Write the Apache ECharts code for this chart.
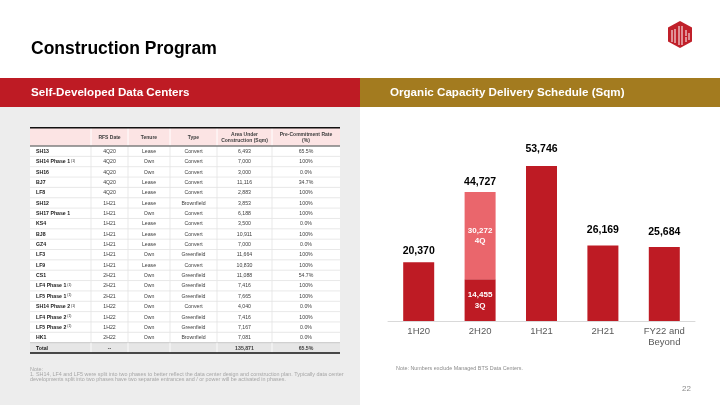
<!DOCTYPE html>
<html><head><meta charset="utf-8">
<script src="https://cdn.jsdelivr.net/npm/echarts@6/dist/echarts.min.js"></script>
<style>html,body{margin:0;padding:0;background:#fff}#c{width:720px;height:405px}</style>
</head><body><div id="c"></div>
<script>
// ---------- chart data ----------
const categories = ['1H20', '2H20', '1H21', '2H21', 'FY22 and\nBeyond'];
const deliveredBase = [20370, 14455, 53746, 26169, 25684];
const deliveredUpper = [null, 30272, null, null, null];
const periodTotals = [20370, 44727, 53746, 26169, 25684];
const baseQuarterTags = ['', '3Q', '', '', ''];
const upperQuarterTags = ['', '4Q', '', '', ''];

// ---------- table data ----------
const tableHeaders = ['', 'RFS Date', 'Tenure', 'Type', 'Area Under\nConstruction (Sqm)', 'Pre-Commitment Rate\n(%)'];
const dcNames = ['SH13', 'SH14 Phase 1', 'SH16', 'BJ7', 'LF8', 'SH12', 'SH17 Phase 1', 'KS4', 'BJ8', 'GZ4', 'LF3', 'LF9', 'CS1', 'LF4 Phase 1', 'LF5 Phase 1', 'SH14 Phase 2', 'LF4 Phase 2', 'LF5 Phase 2', 'HK1'];
const dcFootnotes = ['', '(1)', '', '', '', '', '', '', '', '', '', '', '', '(1)', '(1)', '(1)', '(1)', '(1)', ''];
const rfsDates = ['4Q20', '4Q20', '4Q20', '4Q20', '4Q20', '1H21', '1H21', '1H21', '1H21', '1H21', '1H21', '1H21', '2H21', '2H21', '2H21', '1H22', '1H22', '1H22', '2H22'];
const tenures = ['Lease', 'Own', 'Own', 'Lease', 'Lease', 'Lease', 'Own', 'Lease', 'Lease', 'Lease', 'Own', 'Lease', 'Own', 'Own', 'Own', 'Own', 'Own', 'Own', 'Own'];
const dcTypes = ['Convert', 'Convert', 'Convert', 'Convert', 'Convert', 'Brownfield', 'Convert', 'Convert', 'Convert', 'Convert', 'Greenfield', 'Convert', 'Greenfield', 'Greenfield', 'Greenfield', 'Convert', 'Greenfield', 'Greenfield', 'Brownfield'];
const areasSqm = [6493, 7000, 3000, 11116, 2883, 3853, 6188, 3500, 10911, 7000, 11664, 10830, 11088, 7416, 7665, 4040, 7416, 7167, 7081];
const commitRates = [65.5, 100, 0, 34.7, 100, 100, 100, 0, 100, 0, 100, 100, 54.7, 100, 100, 0, 100, 0, 0];
const totalRow = ['Total', '--', '', '', 135871, 65.5];

// ---------- texts ----------
const pageTitle = 'Construction Program';
const leftHeader = 'Self-Developed Data Centers';
const rightHeader = 'Organic Capacity Delivery Schedule (Sqm)';
const leftNotes = ['Note:', '1. SH14, LF4 and LF5 were split into two phases to better reflect the data center design and construction plan. Typically data center', 'developments split into two phases have two separate entrances and / or power will be activated in phases.'];
const rightNote = 'Note: Numbers exclude Managed BTS Data Centers.';
const pageNumber = '22';

// ---------- helpers ----------
const FONT = '"Liberation Sans", Arial, sans-serif';
const fmtNum = v => v.toLocaleString('en-US');
const fmtRate = v => (v === 100 ? '100%' : v.toFixed(1) + '%');
const DARK_RED = '#BE1B24';
const LIGHT_RED = '#EA666C';

const g = [];
function rect(x, y, w, h, fill) { g.push({ type: 'rect', silent: true, shape: { x, y, width: w, height: h }, style: { fill } }); }
function line(x1, y1, x2, y2, stroke, lw) { g.push({ type: 'line', silent: true, shape: { x1, y1, x2, y2 }, style: { stroke, lineWidth: lw } }); }
function text(x, y, t, opt) { g.push({ type: 'text', silent: true, x, y, style: Object.assign({ text: t, fontFamily: FONT, align: 'left', verticalAlign: 'middle' }, opt) }); }

// page chrome
text(31, 49, pageTitle, { fontSize: 17.5, fontWeight: 'bold', fill: '#000' });
rect(0, 78, 360, 29, '#BE1B24');
rect(360, 78, 360, 29, '#A37B1F');
text(31, 93, leftHeader, { fontSize: 11.6, fontWeight: 'bold', fill: '#fff' });
text(390, 93, rightHeader, { fontSize: 11.6, fontWeight: 'bold', fill: '#fff' });
rect(0, 107, 360, 298, '#EDEDED');

// logo
g.push({ type: 'polygon', silent: true, shape: { points: [[680, 21], [692, 27.5], [692, 41.5], [680, 48], [668, 41.5], [668, 27.5]] }, style: { fill: '#C0202A' } });
[[672, 30, 672, 42], [675, 29, 675, 43], [679, 26, 679, 45], [682, 26, 682, 45], [686, 30, 686, 36], [686, 37, 686, 42], [689, 33, 689, 40]].forEach(p => line(p[0], p[1], p[2], p[3], '#fff', 1));

// table
const colEdges = [30, 91, 128, 170, 217, 272, 340];
const headTop = 128, headBottom = 146, rowH = 10.35;
const nRows = dcNames.length;
rect(30, headTop, 310, headBottom - headTop, '#FCE4E4');
for (let i = 1; i < colEdges.length - 1; i++) line(colEdges[i], headTop, colEdges[i], headBottom, '#ffffff', 1);
for (let c = 1; c < tableHeaders.length; c++) {
  const cx = (colEdges[c] + colEdges[c + 1]) / 2;
  text(cx, (headTop + headBottom) / 2 + 0.5, tableHeaders[c], { fontSize: 5, fontWeight: 'bold', fill: '#404040', align: 'center', lineHeight: 6.2 });
}
for (let r = 0; r <= nRows; r++) {
  const y = headBottom + r * rowH;
  const isTotal = r === nRows;
  rect(30, y, 310, rowH, isTotal ? '#E6E6E6' : '#FFFFFF');
  if (r > 0) line(30, y, 340, y, isTotal ? '#BFBFBF' : '#E3E3E3', 0.8);
  for (let i = 1; i < colEdges.length - 1; i++) line(colEdges[i], y, colEdges[i], y + rowH, isTotal ? '#ffffff' : '#E3E3E3', 0.8);
  const cy = y + rowH / 2 + 0.3;
  let vals;
  if (isTotal) {
    vals = [totalRow[0], totalRow[1], totalRow[2], totalRow[3], fmtNum(totalRow[4]), fmtRate(totalRow[5])];
    text(36, cy, vals[0], { fontSize: 5.2, fontWeight: 'bold', fill: '#1a1a1a' });
  } else {
    vals = [dcNames[r], rfsDates[r], tenures[r], dcTypes[r], fmtNum(areasSqm[r]), fmtRate(commitRates[r])];
    if (dcFootnotes[r]) {
      g.push({ type: 'text', silent: true, x: 36, y: cy, style: { text: '{n|' + dcNames[r] + '}{s|' + dcFootnotes[r] + '}', align: 'left', verticalAlign: 'middle', rich: { n: { fontFamily: FONT, fontSize: 5.2, fontWeight: 'bold', fill: '#1a1a1a', color: '#1a1a1a', verticalAlign: 'bottom' }, s: { fontFamily: FONT, fontSize: 3.4, fill: '#1a1a1a', color: '#1a1a1a', verticalAlign: 'top', padding: [0, 0, 0, 1] } } } });
    } else {
      text(36, cy, vals[0], { fontSize: 5.2, fontWeight: 'bold', fill: '#1a1a1a' });
    }
  }
  for (let c = 1; c < vals.length; c++) {
    if (!vals[c]) continue;
    const cx = (colEdges[c] + colEdges[c + 1]) / 2;
    text(cx, cy, vals[c], { fontSize: 5.2, fontWeight: isTotal ? 'bold' : 'normal', fill: '#404040', align: 'center' });
  }
}
line(30, headTop - 0.2, 340, headTop - 0.2, '#111', 1.4);
line(30, headBottom, 340, headBottom, '#7F7F7F', 1.4);
const tableBottom = headBottom + (nRows + 1) * rowH;
line(30, tableBottom, 340, tableBottom, '#111', 1.4);

// notes
text(30, 369.5, leftNotes[0], { fontSize: 5.4, fill: '#A6A6A6' });
text(30, 374.8, leftNotes[1], { fontSize: 5.4, fill: '#A6A6A6' });
text(30, 380, leftNotes[2], { fontSize: 5.4, fill: '#A6A6A6' });
text(396, 368.5, rightNote, { fontSize: 5.4, fill: '#8C8C8C' });
text(691, 389, pageNumber, { fontSize: 8, fill: '#8C8C8C', align: 'right' });

// ---------- bar chart ----------
const labelGap = [5, 4.3, 10.7, 9.3, 9];
const topLabel = i => ({ show: true, position: 'top', distance: labelGap[i], formatter: () => fmtNum(periodTotals[i]), fontFamily: FONT, fontSize: 10.5, fontWeight: 'bold', color: '#000', lineHeight: 12 });
const innerLabel = tag => ({ show: true, position: 'inside', formatter: p => fmtNum(p.value) + '\n' + tag, fontFamily: FONT, fontSize: 8, fontWeight: 'bold', color: '#fff', lineHeight: 10.6 });

const baseData = deliveredBase.map((v, i) => ({ value: v, label: baseQuarterTags[i] ? innerLabel(baseQuarterTags[i]) : (deliveredUpper[i] == null ? topLabel(i) : { show: false }) }));
const upperData = deliveredUpper.map((v, i) => (v == null ? { value: null } : { value: v, label: innerLabel(upperQuarterTags[i]) }));

const chart = echarts.init(document.getElementById('c'), null, { renderer: 'canvas' });
chart.setOption({
  animation: false,
  backgroundColor: '#fff',
  grid: { left: 388, right: 25, top: 148, bottom: 84 },
  xAxis: {
    type: 'category', data: categories,
    axisLine: { lineStyle: { color: '#D9D9D9', width: 1 } },
    axisTick: { show: false },
    axisLabel: { color: '#595959', fontFamily: FONT, fontSize: 9.5, lineHeight: 10.7, margin: 5, interval: 0 }
  },
  yAxis: { type: 'value', min: 0, max: 60000, show: false, splitLine: { show: false } },
  series: [
    { name: 'Delivered', type: 'bar', stack: 'cap', barWidth: 31, data: baseData, itemStyle: { color: DARK_RED } },
    { name: 'Delivered 4Q', type: 'bar', stack: 'cap', barWidth: 31, data: upperData, itemStyle: { color: LIGHT_RED } },
    { name: 'Total', type: 'bar', stack: 'cap', barWidth: 31, data: deliveredUpper.map((v, i) => (v == null ? { value: null } : { value: 0, label: topLabel(i) })), itemStyle: { color: 'transparent' } }
  ],
  graphic: { elements: g }
});
</script></body></html>
